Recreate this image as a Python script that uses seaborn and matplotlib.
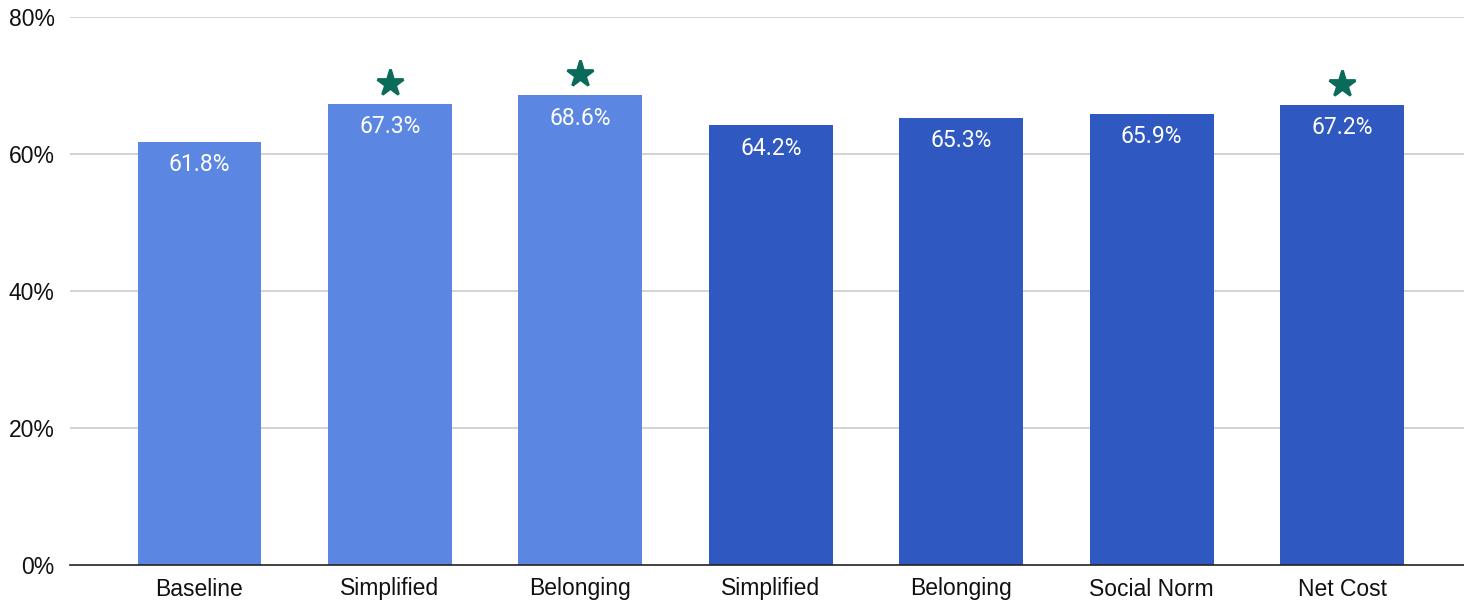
import matplotlib
matplotlib.use("Agg")
import matplotlib.pyplot as plt
import matplotlib.transforms as mtransforms
import seaborn as sns
import pandas as pd

categories = ["Baseline", "Simplified", "Belonging", "Simplified", "Belonging", "Social Norm", "Net Cost"]
values = [61.8, 67.3, 68.6, 64.2, 65.3, 65.9, 67.2]
groups = ["A", "A", "A", "B", "B", "B", "B"]
starred = [False, True, True, False, False, False, True]
yticks = [0, 20, 40, 60, 80]

palette = {"A": "#5B87E3", "B": "#2F58C0"}
star_color = "#0B6B5B"

sns.set_theme(style="white")
plt.rcParams['font.family'] = ['Liberation Sans', 'DejaVu Sans']

df = pd.DataFrame({"pos": [str(i) for i in range(len(categories))],
                   "label": categories, "value": values, "group": groups})

fig = plt.figure(figsize=(14.64, 6.0), dpi=100)
ax = fig.add_axes([70/1464, 1-565/600, 1-70/1464, (565-17)/600])

sns.barplot(data=df, x="pos", y="value", hue="group", palette=palette,
            width=0.65, dodge=False, legend=False, ax=ax, zorder=3,
            saturation=1, linewidth=0)

ax.set_ylim(0, 80)
ax.set_xlim(-0.68, len(categories) - 1 + 0.64)
ax.set_yticks(yticks)
ax.set_yticklabels([f"{t}%" for t in yticks], fontsize=16.5, color="#111111")
ax.set_xticks(range(len(categories)))
ax.set_xticklabels(categories, fontsize=16.5, color="#111111")
ax.set_xlabel("")
ax.set_ylabel("")
ax.tick_params(axis="x", length=0, pad=9)
ax.tick_params(axis="y", length=0, pad=11)

for t in yticks[1:]:
    ax.axhline(t, color="#CCCCCC", lw=1.2, zorder=1)
for side in ["top", "right", "left"]:
    ax.spines[side].set_visible(False)
ax.spines["bottom"].set_color("#222222")
ax.spines["bottom"].set_linewidth(1.2)
ax.spines["bottom"].set_zorder(5)

star_tr = ax.transData + mtransforms.ScaledTranslation(0, 15/72, fig.dpi_scale_trans)
for i, (v, s) in enumerate(zip(values, starred)):
    ax.annotate(f"{v:.1f}%", (i, v), xytext=(0, -16.5), textcoords="offset points",
                ha="center", va="center", color="white", fontsize=16.5,
                family=["Roboto", "DejaVu Sans"], zorder=4)
    if s:
        ax.plot([i], [v], marker="*", markersize=20, color=star_color,
                markeredgecolor=star_color, markeredgewidth=2, linestyle="none",
                transform=star_tr, zorder=4, clip_on=False,
                solid_joinstyle="round")

fig.savefig("out.png", dpi=100)
